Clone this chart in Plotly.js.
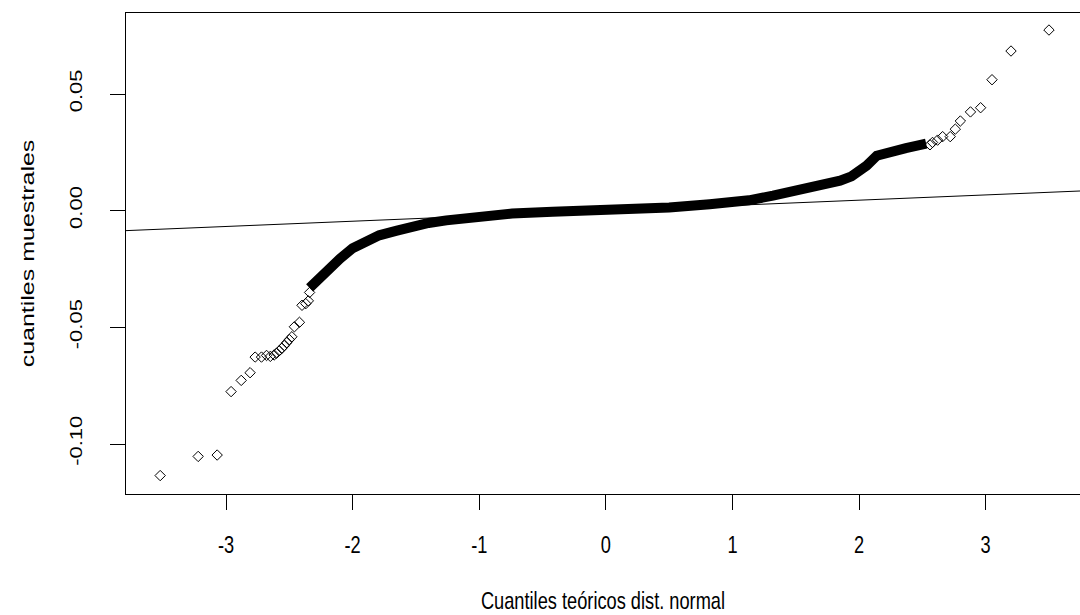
<!DOCTYPE html>
<html>
<head>
<meta charset="utf-8">
<script src="https://cdn.plot.ly/plotly-3.0.1.min.js"></script>
<style>
  html, body { margin: 0; padding: 0; background: #ffffff; }
  #chart { width: 1080px; height: 615px; }
</style>
</head>
<body>
<div id="chart"></div>
<script>
// Sparse lower tail (individual sample quantiles)
const tailLowX = [-3.52, -3.22, -3.07, -2.96, -2.88, -2.81, -2.77, -2.72, -2.68, -2.65, -2.62, -2.60, -2.58, -2.56, -2.54, -2.52, -2.50, -2.48, -2.46, -2.42, -2.40, -2.37, -2.35, -2.34];
const tailLowY = [-0.1135, -0.1053, -0.1047, -0.0775, -0.0727, -0.0694, -0.0627, -0.0627, -0.0620, -0.0624, -0.0618, -0.0610, -0.0600, -0.0590, -0.0578, -0.0565, -0.0552, -0.0540, -0.0497, -0.0478, -0.0405, -0.0398, -0.0386, -0.0350];

// Dense central part (overlapping markers form a solid band)
const bandX = [-2.34, -2.26, -2.19, -2.10, -2.00, -1.90, -1.79, -1.65, -1.53, -1.40, -1.26, -1.10, -0.90, -0.74, -0.42, 0.00, 0.21, 0.50, 0.82, 1.06, 1.13, 1.32, 1.58, 1.85, 1.94, 1.98, 2.06, 2.14, 2.24, 2.37, 2.45, 2.53];
const bandY = [-0.0330, -0.0285, -0.0248, -0.0205, -0.0160, -0.0130, -0.0105, -0.0085, -0.0066, -0.0052, -0.0041, -0.0029, -0.0020, -0.0012, -0.0004, 0.0000, 0.0003, 0.0014, 0.0028, 0.0040, 0.0045, 0.0065, 0.0094, 0.0129, 0.0148, 0.0160, 0.0194, 0.0236, 0.0255, 0.0269, 0.0278, 0.0288];

// Sparse upper tail
const tailHighX = [2.56, 2.58, 2.62, 2.66, 2.72, 2.76, 2.80, 2.88, 2.96, 3.05, 3.20, 3.50];
const tailHighY = [0.0283, 0.0293, 0.0303, 0.0318, 0.0318, 0.0350, 0.0385, 0.0424, 0.0442, 0.0562, 0.0685, 0.0775];

// Reference line (qqline) end points
const refLineX = [-3.79, 3.75];
const refLineY = [-0.0085, 0.0085];

// Tick labels
const xTickVals = [-3, -2, -1, 0, 1, 2, 3];
const xTickText = ['-3', '-2', '-1', '0', '1', '2', '3'];
const yTickVals = [-0.10, -0.05, 0.00, 0.05];
const yTickText = ['-0.10', '-0.05', '0.00', '0.05'];

const FONT = 'Liberation Sans, Arial, sans-serif';
const TEXT_SQUEEZE = 0.76; // reference text is rendered tall and narrow

const markerStyle = {
  symbol: 'diamond-open',
  size: 8,
  color: '#000000',
  line: { width: 1, color: '#000000' }
};

const traces = [
  {
    x: refLineX, y: refLineY, type: 'scatter', mode: 'lines',
    line: { color: '#000000', width: 1 }, hoverinfo: 'skip', showlegend: false
  },
  {
    x: bandX, y: bandY, type: 'scatter', mode: 'lines',
    line: { color: '#000000', width: 10 }, showlegend: false
  },
  {
    x: tailLowX, y: tailLowY, type: 'scatter', mode: 'markers',
    marker: markerStyle, showlegend: false
  },
  {
    x: tailHighX, y: tailHighY, type: 'scatter', mode: 'markers',
    marker: markerStyle, showlegend: false
  }
];

const layout = {
  width: 1080, height: 615,
  paper_bgcolor: '#ffffff', plot_bgcolor: '#ffffff',
  margin: { l: 126, r: 0, t: 13, b: 121, pad: 0 },
  font: { family: FONT, size: 16, color: '#000000' },
  showlegend: false,
  xaxis: {
    range: [-3.79, 3.745],
    tickmode: 'array', tickvals: xTickVals, ticktext: xTickText,
    ticks: 'outside', ticklen: 15, tickwidth: 1, tickcolor: '#000000',
    ticklabelstandoff: 14,
    showgrid: false, zeroline: false,
    showline: true, linecolor: '#000000', linewidth: 1, mirror: true,
    tickfont: { family: FONT, size: 24, color: '#000000' },
    title: { text: 'Cuantiles teóricos dist. normal', font: { family: FONT, size: 24, color: '#000000' }, standoff: 35 }
  },
  yaxis: {
    range: [-0.1214, 0.0848],
    tickmode: 'array', tickvals: yTickVals, ticktext: yTickText,
    tickangle: -90,
    ticks: 'outside', ticklen: 15, tickwidth: 1, tickcolor: '#000000',
    ticklabelstandoff: 17,
    showgrid: false, zeroline: false,
    showline: true, linecolor: '#000000', linewidth: 1, mirror: false,
    tickfont: { family: FONT, size: 22, color: '#000000' },
    title: { text: 'cuantiles muestrales', font: { family: FONT, size: 25, color: '#000000' }, standoff: 20 }
  }
};

// Squeeze a text element horizontally about its own centre (in screen x).
function squeezeX(el, s) {
  const r = el.getBoundingClientRect();
  const cxScreen = r.left + r.width / 2;
  const ctm = el.parentNode.getScreenCTM();
  const cx = (cxScreen - ctm.e) / ctm.a;
  const existing = el.getAttribute('transform') || '';
  el.setAttribute('transform',
    'translate(' + cx + ',0) scale(' + s + ',1) translate(' + (-cx) + ',0) ' + existing);
}

Plotly.newPlot('chart', traces, layout, { displayModeBar: false, staticPlot: true }).then(function (gd) {
  const sel = gd.querySelectorAll('.xtick text, .ytick text, text.xtitle, text.ytitle');
  sel.forEach(function (el) { squeezeX(el, TEXT_SQUEEZE); });
});
</script>
</body>
</html>
